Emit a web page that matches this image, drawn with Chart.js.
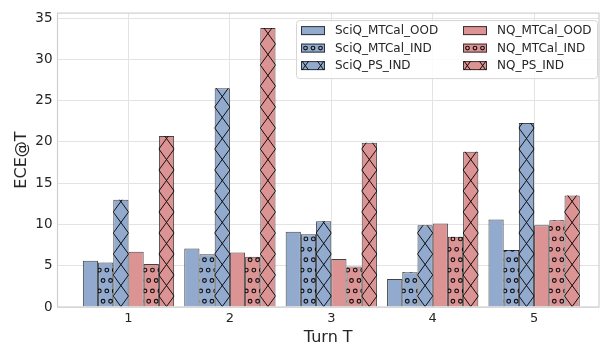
<!DOCTYPE html>
<html>
<head>
<meta charset="utf-8">
<script src="https://cdn.jsdelivr.net/npm/chart.js@4.4.0/dist/chart.umd.min.js"></script>
<style>
  html, body { margin: 0; padding: 0; background: #fff; }
  #wrap { width: 608px; height: 347px; }
</style>
</head>
<body>
<div id="wrap"><canvas id="ece_chart" width="608" height="347"></canvas></div>
<script>
// ECE@T per turn
var turns = [1, 2, 3, 4, 5];
var sciqMtcalOod = [5.6, 7.1, 9.1, 3.4, 10.6];
var sciqMtcalInd = [5.4, 6.4, 8.8, 4.2, 6.9];
var sciqPsInd    = [13.0, 26.5, 10.4, 9.9, 22.3];
var nqMtcalOod   = [6.7, 6.6, 5.8, 10.1, 9.9];
var nqMtcalInd   = [5.2, 6.1, 4.9, 8.5, 10.5];
var nqPsInd      = [20.7, 33.8, 19.9, 18.8, 13.5];
var yTicks = [0, 5, 10, 15, 20, 25, 30, 35];

var BLUE = "rgb(146, 170, 206)";
var RED = "rgb(220, 147, 148)";
var EDGE = "rgba(20, 20, 20, 0.8)";
var TEXT = "#262626";

Chart.defaults.font.family = "'DejaVu Sans', sans-serif";
Chart.defaults.color = TEXT;

function pts(vals) {
    return vals.map(function (v, i) { return { x: turns[i], y: v }; });
}

function makeSet(label, vals, color, hatch) {
    return {
        label: label,
        data: pts(vals),
        backgroundColor: color,
        borderColor: EDGE,
        borderWidth: 1,
        hatch: hatch
    };
}

// hatch drawing: 'x' = diamonds, 'o' = small staggered circles
function drawHatch(ctx, type, left, top, w, h, cx, baseY) {
    ctx.strokeStyle = "rgba(0, 0, 0, 0.9)";
    ctx.lineWidth = 1;
    if (type === "x") {
        var dw = 15.3, dh = 21;
        var n = Math.ceil(h / dh) + 3;
        ctx.beginPath();
        for (var k = -2; k < n; k++) {
            var y0 = baseY - k * dh;
            ctx.moveTo(cx - 2 * dw, y0 + 2 * dh);
            ctx.lineTo(cx + 2 * dw, y0 - 2 * dh);
            ctx.moveTo(cx - 2 * dw, y0 - 2 * dh);
            ctx.lineTo(cx + 2 * dw, y0 + 2 * dh);
        }
        ctx.stroke();
    } else if (type === "o") {
        var rowH = 10.4, colW = 7.5;
        var rows = Math.ceil(h / rowH) + 2;
        ctx.lineWidth = 1.15;
        for (var r = -1; r < rows; r++) {
            var yy = baseY - (r + 0.5) * rowH;
            var off = (r % 2 === 0) ? 5 : 1.25;
            for (var j = -1; j * colW < w + colW; j++) {
                var xx = left + off + j * colW;
                ctx.beginPath();
                ctx.arc(xx, yy, 1.85, 0, Math.PI * 2);
                ctx.stroke();
            }
        }
    }
}

var hatchPlugin = {
    id: "hatch",
    afterDatasetsDraw: function (chart) {
        var ctx = chart.ctx;
        chart.data.datasets.forEach(function (ds, i) {
            if (!ds.hatch) return;
            chart.getDatasetMeta(i).data.forEach(function (bar) {
                var p = bar.getProps(["x", "y", "base", "width"], true);
                var left = p.x - p.width / 2;
                var top = Math.min(p.y, p.base);
                var h = Math.abs(p.base - p.y);
                ctx.save();
                ctx.beginPath();
                ctx.rect(left, top, p.width, h);
                ctx.clip();
                drawHatch(ctx, ds.hatch, left, top, p.width, h, p.x, p.base);
                ctx.restore();
            });
        });
        // axes frame, light grey like seaborn whitegrid
        var a = chart.chartArea;
        ctx.save();
        ctx.strokeStyle = "#cfcfcf";
        ctx.lineWidth = 1.2;
        ctx.strokeRect(a.left, a.top, a.right - a.left, a.bottom - a.top);
        ctx.restore();
    }
};

// two-column legend in the top right corner (column-major like matplotlib)
var legendPlugin = {
    id: "colLegend",
    afterDraw: function (chart) {
        var ctx = chart.ctx;
        var a = chart.chartArea;
        var sets = chart.data.datasets;
        var boxW = 301, boxH = 58;
        var bx = a.right - boxW - 2, by = a.top + 7;
        ctx.save();
        ctx.fillStyle = "rgba(255, 255, 255, 0.85)";
        ctx.strokeStyle = "#d6d6d6";
        ctx.lineWidth = 1;
        ctx.beginPath();
        ctx.roundRect(bx + 0.5, by + 0.5, boxW, boxH, 3);
        ctx.fill();
        ctx.stroke();
        ctx.font = "12px 'DejaVu Sans'";
        ctx.textBaseline = "middle";
        var colX = [bx + 5, bx + 167];
        for (var i = 0; i < sets.length; i++) {
            var col = Math.floor(i / 3), row = i % 3;
            var x = colX[col];
            var yc = by + 10.5 + row * 17.5;
            var sw = 24, sh = 9;
            var sx = x, sy = yc - sh / 2;
            ctx.fillStyle = sets[i].backgroundColor;
            ctx.fillRect(sx, sy, sw, sh);
            ctx.save();
            ctx.beginPath();
            ctx.rect(sx, sy, sw, sh);
            ctx.clip();
            if (sets[i].hatch === "o") {
                ctx.strokeStyle = "rgba(0, 0, 0, 0.9)";
                ctx.lineWidth = 1.15;
                for (var c = 0; c < 3; c++) {
                    ctx.beginPath();
                    ctx.arc(sx + 4.5 + c * 7.5, yc, 1.85, 0, Math.PI * 2);
                    ctx.stroke();
                }
            } else if (sets[i].hatch === "x") {
                drawHatch(ctx, "x", sx, sy, sw, sh, sx + sw / 2, yc + 10.5);
            }
            ctx.restore();
            ctx.strokeStyle = EDGE;
            ctx.lineWidth = 1;
            ctx.strokeRect(sx + 0.5, sy + 0.5, sw - 1, sh - 1);
            ctx.fillStyle = TEXT;
            ctx.fillText(sets[i].label, sx + sw + 10, yc + 0.5);
        }
        ctx.restore();
    }
};

var ctx = document.getElementById("ece_chart").getContext("2d");

var data = {
    datasets: [
        makeSet("SciQ_MTCal_OOD", sciqMtcalOod, BLUE, null),
        makeSet("SciQ_MTCal_IND", sciqMtcalInd, BLUE, "o"),
        makeSet("SciQ_PS_IND", sciqPsInd, BLUE, "x"),
        makeSet("NQ_MTCal_OOD", nqMtcalOod, RED, null),
        makeSet("NQ_MTCal_IND", nqMtcalInd, RED, "o"),
        makeSet("NQ_PS_IND", nqPsInd, RED, "x")
    ]
};

var options = {
    responsive: false,
    animation: false,
    devicePixelRatio: 1,
    layout: { padding: { top: 6, right: 9, left: 0, bottom: 0 } },
    datasets: {
        bar: { categoryPercentage: 0.9, barPercentage: 1.0 }
    },
    scales: {
        x: {
            type: "linear",
            offset: false,
            min: 0.3,
            max: 5.64,
            afterBuildTicks: function (s) {
                s.ticks = turns.map(function (v) { return { value: v }; });
            },
            afterFit: function (s) { s.height = 40; },
            grid: { color: "#e3e3e3", lineWidth: 1, drawTicks: false, offset: false },
            border: { display: false },
            ticks: { font: { size: 13 }, color: TEXT, padding: 4 },
            title: { display: true, text: "Turn T", font: { size: 16 }, color: TEXT, padding: { top: 0, bottom: 0 } }
        },
        y: {
            min: 0,
            max: 35.6,
            afterBuildTicks: function (s) {
                s.ticks = yTicks.map(function (v) { return { value: v }; });
            },
            afterFit: function (s) { s.width = 57.5; },
            grid: { color: "#e3e3e3", lineWidth: 1, drawTicks: false },
            border: { display: false },
            ticks: { font: { size: 13.5 }, color: TEXT, padding: 5 },
            title: { display: true, text: "ECE@T", font: { size: 16 }, color: TEXT, padding: { top: 12, bottom: 0 } }
        }
    },
    plugins: {
        legend: { display: false },
        tooltip: { enabled: false }
    }
};

var eceChart = new Chart(ctx, {
    type: "bar",
    data: data,
    options: options,
    plugins: [hatchPlugin, legendPlugin]
});
</script>
</body>
</html>
